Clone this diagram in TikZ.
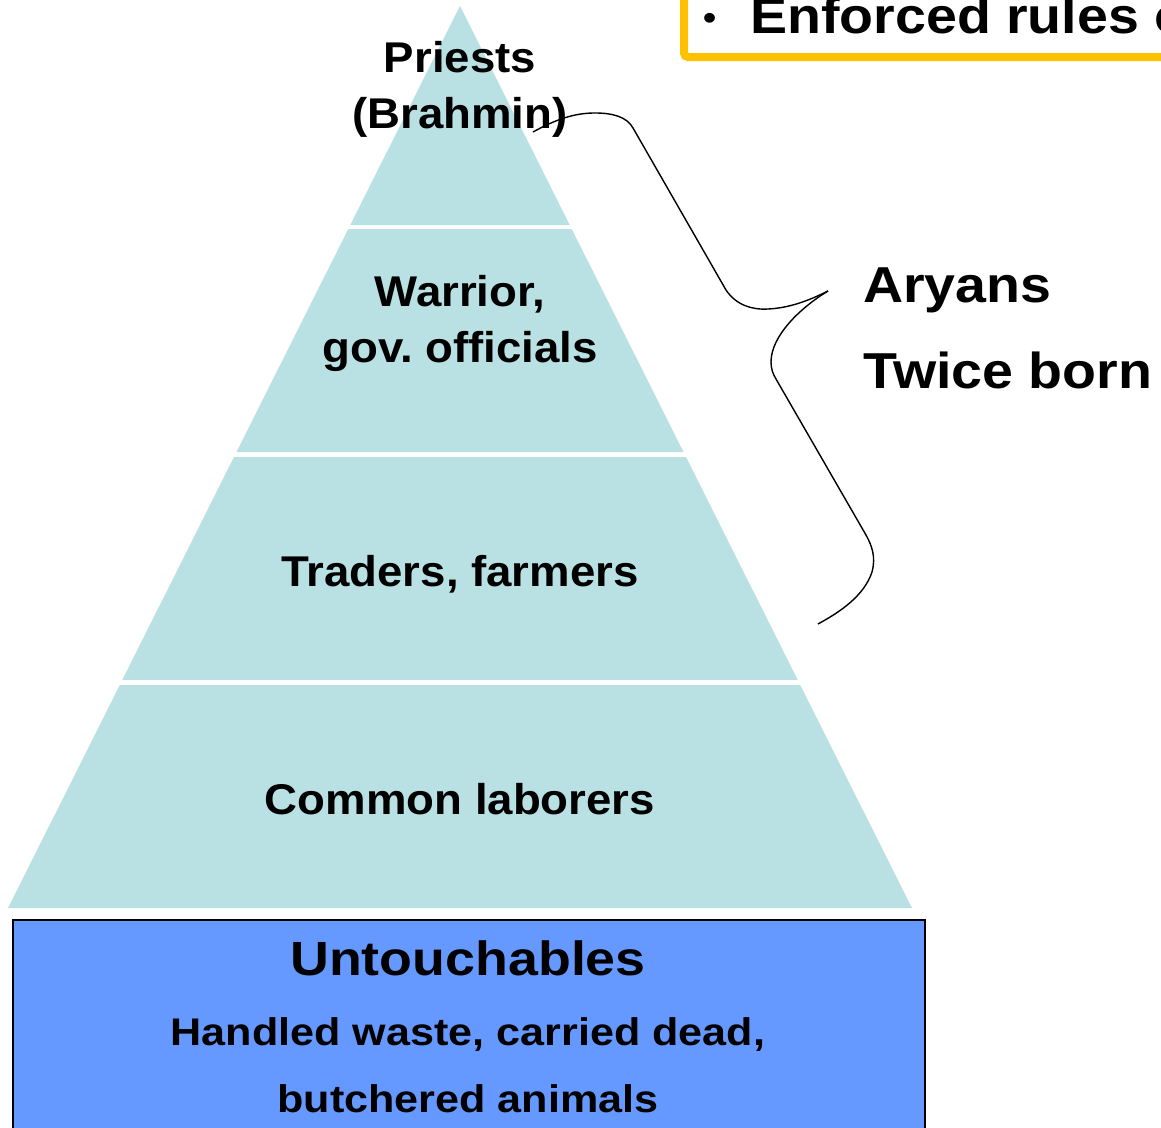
\documentclass[tikz,border=0pt]{standalone}
\usepackage{fontspec}
\newfontfamily\lbl[FakeStretch=1.12]{Liberation Sans}
\newfontfamily\lblp[FakeStretch=1.06]{Liberation Sans}
\newfontfamily\lbls[FakeStretch=1.1]{Liberation Sans}
\definecolor{tier}{RGB}{185,224,227}
\definecolor{untblue}{RGB}{102,153,255}
\definecolor{gold}{RGB}{255,192,0}
\frenchspacing
\begin{document}
\begin{tikzpicture}[x=1pt,y=-1pt,
  tierfill/.style={fill=tier,draw=none},
  lab/.style={font=\lblp\bfseries\fontsize{43}{56}\selectfont,align=center,inner sep=0pt,anchor=base},
  boxlab/.style={font=\lbl\bfseries\fontsize{38.5}{48}\selectfont,inner sep=0pt,anchor=base},
  side/.style={font=\lbls\bfseries\fontsize{50.5}{60}\selectfont,inner sep=0pt,anchor=base west},
  brace/.style={draw=black,line width=1.4pt,line join=round}]
\useasboundingbox (0,0) rectangle (1161,1127);
% pyramid tiers
\fill[tierfill] (460,6) -- (569.7,225) -- (350.3,225) -- cycle;
\fill[tierfill] (348.3,229) -- (571.7,229) -- (683.5,452) -- (236.5,452) -- cycle;
\fill[tierfill] (234,457) -- (686,457) -- (797.7,680) -- (122.3,680) -- cycle;
\fill[tierfill] (119.8,685) -- (800.2,685) -- (912,908) -- (8,908) -- cycle;
% labels
\node[lab] (priests) at (460,72) {Priests};
\node[lab] (brahmin) at (460,128) {(Brahmin)};
\node[lab] (warrior) at (460,306) {Warrior,};
\node[lab] (gov) at (460,362) {gov. officials};
\node[lab] (traders) at (460,586) {Traders, farmers};
\node[lab] (common) at (460,814) {Common laborers};
% untouchables box
\node[draw=black,line width=1.6pt,fill=untblue,minimum width=912pt,minimum height=240pt,anchor=north west,inner sep=0pt] (untbox) at (12,919) {};
\node[boxlab,font=\lbl\bfseries\fontsize{48}{56}\selectfont] (unt) at (468,975) {Untouchables};
\node[boxlab] (handled) at (468,1045) {Handled waste, carried dead,};
\node[boxlab] (butch) at (468,1112) {butchered animals};
% side labels
\node[side] (aryans) at (863,302) {Aryans};
\node[side] (twice) at (863,388) {Twice born};
% orange box
\draw[gold,line width=8pt,rounded corners=4pt] (684,-40) -- (684,57) -- (1200,57);
\node[side,font=\lbls\bfseries\fontsize{34}{40}\selectfont] (bullet) at (703,29) {•};
\node[side] (enforced) at (750,33) {Enforced rules o};
% brace
\coordinate (bstart) at (533,132);
\coordinate (btip) at (828,291);
\coordinate (bend) at (818,624);
\draw[brace] (bstart) .. controls (560,117) and (578,113) .. (595,113)
  .. controls (613,113) and (627,117) .. (633,128)
  -- (726,290) .. controls (736,305) and (752,310) .. (768,309)
  .. controls (790,308) and (810,300) .. (btip);
\draw[brace] (btip) .. controls (800,308) and (771,336) .. (771,362)
  .. controls (771,369) and (773,374) .. (776,379)
  -- (866,535) .. controls (872,546) and (876,557) .. (872,572)
  .. controls (864,596) and (840,612) .. (bend);
\end{tikzpicture}
\end{document}
